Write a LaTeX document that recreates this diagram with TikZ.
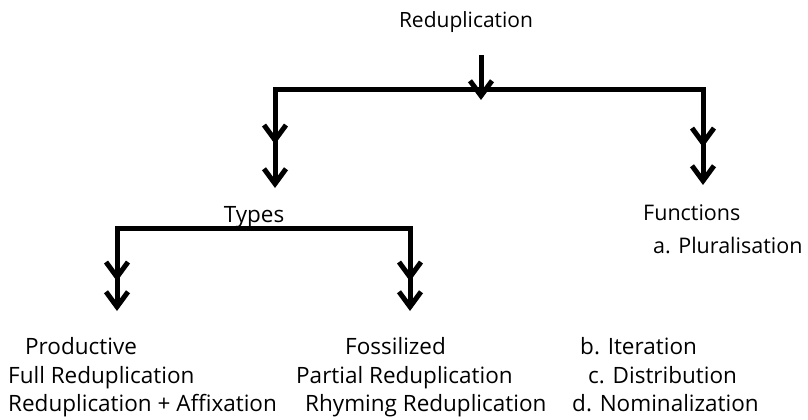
\documentclass[tikz,border=0pt]{standalone}
\usepackage{fontspec}
\setmainfont{Open Sans}
\usetikzlibrary{arrows.meta, positioning}

\tikzset{
  stem/.style={line width=5pt, black},
  onehead/.style={stem, -{Straight Barb[length=15pt, width=22pt]}},
  twohead/.style={stem, -{Straight Barb[length=15pt, width=22pt, sep=#1]Straight Barb[length=15pt, width=22pt]}},
  bar/.style={stem, line cap=rect},
  word/.style={anchor=base west, inner sep=0pt}
}

\begin{document}
\begin{tikzpicture}[x=1pt, y=-1pt, every node/.style={font=\fontsize{22.5}{26}\selectfont}]
    \useasboundingbox (0, 0) rectangle (808, 420);

    % Top level
    \node[anchor=base, inner sep=0pt, font=\fontsize{21}{24}\selectfont] (title) at (466, 28) {Reduplication};
    \coordinate (split) at (481, 100);
    \coordinate (barL) at (275, 89);
    \coordinate (barR) at (703, 89);
    \coordinate (typesTip) at (275, 188);
    \coordinate (funcTip) at (703, 185);

    \draw[bar] (barL) -- (barR);
    \draw[onehead] (title.south -| split) ++(0, 22) -- (split);
    \draw[twohead=22pt] (barL) -- (typesTip);
    \draw[twohead=16pt] (barR) -- (funcTip);

    % Second level
    \node[anchor=base, inner sep=0pt] (types) at (254, 222) {Types};
    \node[word, font=\fontsize{21.5}{25}\selectfont] (functions) at (643, 220) {Functions};
    \node[word, font=\fontsize{21.5}{25}\selectfont] (plural) at (653, 253) {a. Pluralisation};

    \coordinate (typL) at (117, 228);
    \coordinate (typR) at (410, 228);
    \coordinate (prodTip) at (117, 311);
    \coordinate (fossTip) at (410, 311);

    \draw[bar] (typL) -- (typR);
    \draw[twohead=8pt] (typL) -- (prodTip);
    \draw[twohead=8pt] (typR) -- (fossTip);

    % Bottom rows
    \node[word] (productive) at (25, 354) {Productive};
    \node[word] (fullred) at (8, 383) {Full Reduplication};
    \node[word] (redaff) at (8, 411) {Reduplication + Affixation};

    \node[word] (fossil) at (345, 354) {Fossilized};
    \node[word] (partial) at (296, 383) {Partial Reduplication};
    \node[word] (rhyming) at (305, 411) {Rhyming Reduplication};

    \node[word] (iter) at (580, 354) {b. Iteration};
    \node[word] (distr) at (588, 383) {c. Distribution};
    \node[word] (nomin) at (572, 411) {d. Nominalization};
\end{tikzpicture}
\end{document}
